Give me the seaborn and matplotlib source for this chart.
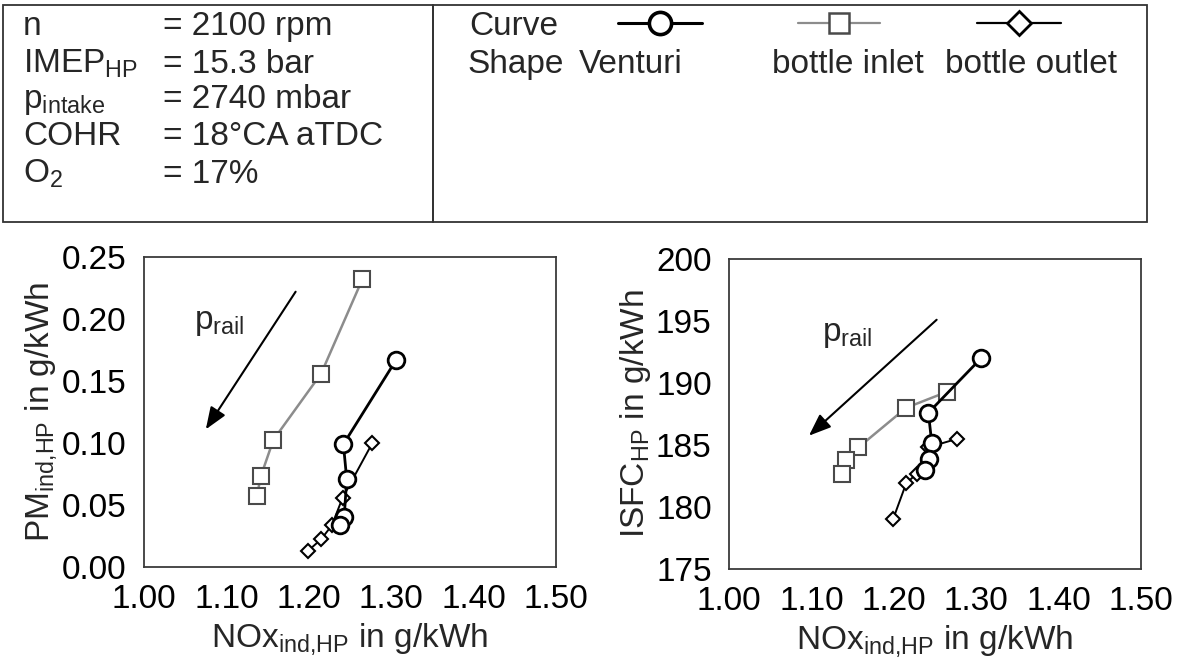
import numpy as np
import pandas as pd
import matplotlib
matplotlib.use("Agg")
import matplotlib.pyplot as plt
from matplotlib.lines import Line2D
from matplotlib.patches import Rectangle
import seaborn as sns

# Rail-pressure sweeps (high -> low p_rail) for the three nozzle curve shapes
shapes = ["Venturi", "bottle inlet", "bottle outlet"]

nox_venturi = [1.306, 1.242, 1.246, 1.243, 1.238]
nox_inlet = [1.265, 1.215, 1.157, 1.142, 1.137]
nox_outlet = [1.277, 1.241, 1.228, 1.215, 1.199]

pm_venturi = [0.167, 0.099, 0.071, 0.0405, 0.034]
pm_inlet = [0.232, 0.156, 0.1025, 0.0736, 0.0575]
pm_outlet = [0.0998, 0.0558, 0.0336, 0.0224, 0.013]

isfc_venturi = [192.0, 187.6, 185.2, 183.9, 183.0]
isfc_inlet = [189.3, 188.0, 184.8, 183.8, 182.7]
isfc_outlet = [185.5, 184.8, 182.7, 181.9, 179.0]

x_ticks = [1.00, 1.10, 1.20, 1.30, 1.40, 1.50]
pm_ticks = [0.00, 0.05, 0.10, 0.15, 0.20, 0.25]
isfc_ticks = [175, 180, 185, 190, 195, 200]

cond_names = ["n", "IMEP$_{HP}$", "p$_{intake}$", "COHR", "O$_{2}$"]
cond_values = ["= 2100 rpm", "= 15.3 bar", "= 2740 mbar", "= 18°CA aTDC", "= 17%"]

frames = []
for name, nox, pm, isfc in [
    ("Venturi", nox_venturi, pm_venturi, isfc_venturi),
    ("bottle inlet", nox_inlet, pm_inlet, isfc_inlet),
    ("bottle outlet", nox_outlet, pm_outlet, isfc_outlet),
]:
    frames.append(pd.DataFrame({"shape": name, "step": range(len(nox)),
                                "nox": nox, "pm": pm, "isfc": isfc}))
df = pd.concat(frames, ignore_index=True)

styles = {
    "bottle inlet": dict(color="#8c8c8c", lw=1.8, marker="s", ms=12,
                         mec="#4a4a4a", mew=1.5, mfc="white"),
    "bottle outlet": dict(color="black", lw=1.4, marker="D", ms=7.5,
                          mec="black", mew=1.5, mfc="white"),
    "Venturi": dict(color="black", lw=2.0, marker="o", ms=12,
                    mec="black", mew=2.0, mfc="white"),
}
draw_order = ["bottle inlet", "bottle outlet", "Venturi"]

sns.set_style("white")
plt.rcParams["font.family"] = ["Liberation Sans", "DejaVu Sans"]
plt.rcParams["mathtext.fontset"] = "custom"
plt.rcParams["mathtext.rm"] = "Liberation Sans"
plt.rcParams["mathtext.it"] = "Liberation Sans"
plt.rcParams["mathtext.default"] = "regular"

W, H = 1181, 665
fig = plt.figure(figsize=(W / 100, H / 100), dpi=100)


def fx(x):
    return x / W


def fy(y):
    return 1 - y / H


ax1 = fig.add_axes([fx(144), fy(567), fx(556 - 144), (567 - 257) / H])
ax2 = fig.add_axes([fx(729), fy(569), fx(1141 - 729), (569 - 259) / H])

FS = 24
spine_c = "#3a3a3a"

for ax, ycol, yticks, ylabel, fmt in [
    (ax1, "pm", pm_ticks, "PM$_{ind{,}HP}$ in g/kWh", "{:.2f}"),
    (ax2, "isfc", isfc_ticks, "ISFC$_{HP}$ in g/kWh", "{:.0f}"),
]:
    for shp in draw_order:
        sub = df[df["shape"] == shp]
        sns.lineplot(data=sub, x="nox", y=ycol, sort=False, estimator=None,
                     ax=ax, legend=False, **styles[shp])
    ax.set_xlim(x_ticks[0], x_ticks[-1])
    ax.set_ylim(yticks[0], yticks[-1])
    ax.set_xticks(x_ticks)
    ax.set_xticklabels([f"{v:.2f}" for v in x_ticks])
    ax.set_yticks(yticks)
    ax.set_yticklabels([fmt.format(v) for v in yticks])
    ax.tick_params(direction="out", length=9.5, width=1.2, colors="#222",
                   labelsize=FS, pad=3, labelcolor="black")
    for sp in ax.spines.values():
        sp.set_visible(True)
        sp.set_color(spine_c)
        sp.set_linewidth(1.3)
    ax.set_xlabel("NOx$_{ind{,}HP}$ in g/kWh", fontsize=FS, labelpad=4)
    ax.set_ylabel(ylabel, fontsize=FS, labelpad=2)

arrow_kw = dict(arrowstyle="-|>,head_length=0.9,head_width=0.35", lw=1.5,
                color="black", facecolor="#333", shrinkA=0, shrinkB=0,
                mutation_scale=15)
ax1.annotate("", xy=(1.075, 0.111), xytext=(1.184, 0.222), arrowprops=arrow_kw)
ax1.text(1.061, 0.197, "p$_{rail}$", fontsize=FS, ha="left", va="center")
ax2.annotate("", xy=(1.097, 185.75), xytext=(1.252, 195.1), arrowprops=arrow_kw)
ax2.text(1.113, 193.9, "p$_{rail}$", fontsize=FS, ha="left", va="center")

# Operating-condition and legend boxes above the panels
box_kw = dict(transform=fig.transFigure, fill=False, lw=1.3, ec="#333")
fig.add_artist(Rectangle((fx(3), fy(222)), fx(433 - 3), (222 - 5) / H, **box_kw))
fig.add_artist(Rectangle((fx(433), fy(222)), fx(1147 - 433), (222 - 5) / H, **box_kw))

row_base = [35, 73, 108, 145, 183]
for name, val, yb in zip(cond_names, cond_values, row_base):
    fig.text(fx(23), fy(yb), name, fontsize=FS, va="baseline", ha="left")
    fig.text(fx(163), fy(yb), val, fontsize=FS, va="baseline", ha="left")

fig.text(fx(469), fy(35), "Curve", fontsize=FS, va="baseline", ha="left")
fig.text(fx(467), fy(73), "Shape", fontsize=FS, va="baseline", ha="left")

legend_items = [
    ("Venturi", 618, 702, 579, dict(ms=16, mew=2.6), 2.2),
    ("bottle inlet", 798, 880, 772, dict(ms=15, mew=1.8), 1.6),
    ("bottle outlet", 977, 1061, 945, dict(ms=12.5, mew=2.0), 1.6),
]
for shp, x0, x1, xt, mk, llw in legend_items:
    st = styles[shp]
    fig.add_artist(Line2D([fx(x0), fx(x1)], [fy(23), fy(23)],
                          transform=fig.transFigure, color=st["color"], lw=llw))
    fig.add_artist(Line2D([fx((x0 + x1) / 2)], [fy(23)], transform=fig.transFigure,
                          marker=st["marker"], mfc="white", mec=st["mec"],
                          ls="none", **mk))
    fig.text(fx(xt), fy(73), shp, fontsize=FS, va="baseline", ha="left")

fig.savefig("out.png", dpi=100, facecolor="white")
